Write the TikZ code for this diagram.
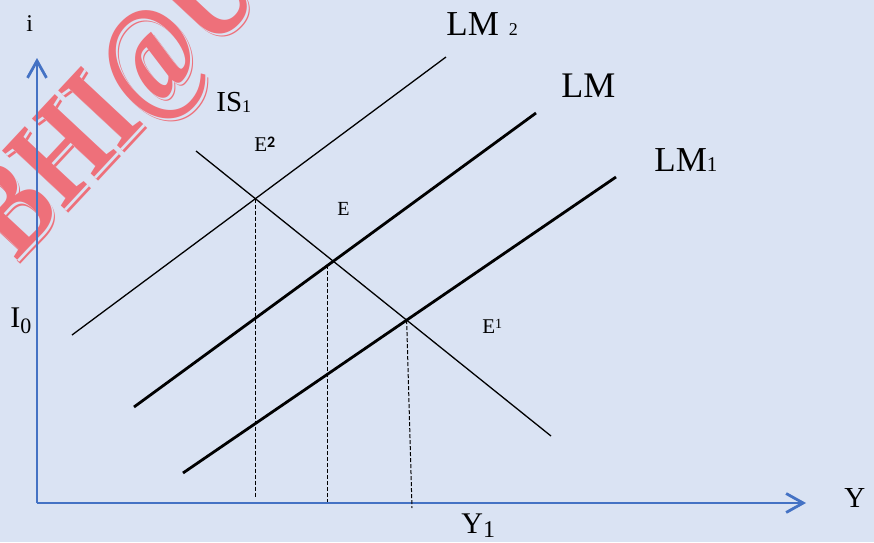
\documentclass[tikz,border=0pt]{standalone}
\usepackage{fontspec}
\setmainfont{Liberation Serif}
\newfontfamily\calib{Carlito}
\usetikzlibrary{arrows.meta,intersections}
\definecolor{bgc}{HTML}{DAE3F3}
\definecolor{axc}{HTML}{4472C4}
\definecolor{wmc}{HTML}{EE707A}
\newcommand{\fs}[1]{\fontsize{#1}{#1}\selectfont}
\newcommand{\wmtext}{\scalebox{0.8}[1]{BHI@U}}
\begin{document}
\begin{tikzpicture}[x=0.5pt,y=-0.5pt,
 axisline/.style={draw=axc,line width=1.4pt,-{Straight Barb[length=8.5pt,width=9.5pt,line width=1.4pt]}},
 thinline/.style={draw=black,line width=0.65pt},
 thickline/.style={draw=black,line width=1.4pt},
 dropline/.style={draw=black,line width=0.5pt,dash pattern=on 2pt off 1pt},
 lbl/.style={inner sep=0pt,anchor=base west,text=black},
 wm/.style={inner sep=0pt,anchor=base west,rotate=47,font=\bfseries\fs{65}}]

\useasboundingbox[fill=bgc] (0,0) rectangle (874,542);

% watermark
\node[wm,text=wmc] (wma) at (19.5,265.5) {\wmtext};
\node[wm,text=bgc] (wmb) at (17.8,263.8) {\wmtext};
\node[wm,text=wmc] (wmc) at (16,262) {\wmtext};

% axes
\coordinate (O) at (37,503);
\coordinate (ytip) at (37,58);
\coordinate (xtip) at (806,503);
\draw[axisline] (O) -- (ytip);
\draw[axisline] (O) -- (xtip);

% curves
\coordinate (isa) at (196,151);
\coordinate (isb) at (551,436);
\coordinate (lmta) at (72,335);
\coordinate (lmtb) at (446,57);
\coordinate (lma) at (134,407);
\coordinate (lmb) at (536,113);
\coordinate (lmoa) at (183,473);
\coordinate (lmob) at (616,177);
\draw[thinline,name path=is] (isa) -- (isb);
\draw[thinline,name path=lmtwo] (lmta) -- (lmtb);
\draw[thickline,name path=lm] (lma) -- (lmb);
\draw[thickline,name path=lmone] (lmoa) -- (lmob);

\path[name intersections={of=is and lmtwo,by=Etwo}];
\path[name intersections={of=is and lmone,by=Eone}];
\coordinate (Etop) at (327,265);

\coordinate (bone) at (0,498);
\coordinate (btwo) at (0,502);
\coordinate (bthree) at (412,508);
\draw[dropline] (Etwo) -- (Etwo |- bone);
\draw[dropline] (Etop) -- (Etop |- btwo);
\draw[dropline] (Eone) -- (bthree);

% labels
\node[lbl,font=\fs{12}] (li) at (26,31) {i};
\node[lbl,font=\fs{14.5}] (lis) at (216,111) {IS\raisebox{-0.5pt}{\fs{9}1}};
\node[lbl,font=\fs{10.5}] (letwo) at (254,151) {E\raisebox{1.7pt}{\calib\bfseries\fs{8}2}};
\node[lbl,font=\fs{10}] (le) at (337,215) {E};
\node[lbl,font=\fs{10.5}] (leone) at (482,333) {E\raisebox{2.5pt}{\fs{7}1}};
\node[lbl,font=\fs{17.5}] (llmtwo) at (446,35) {LM\hspace{5pt}{\fs{9}2}};
\node[lbl,font=\fs{18}] (llm) at (561,97) {LM};
\node[lbl,font=\fs{17.5}] (llmone) at (654,171) {LM{\fs{10.5}1}};
\node[lbl,font=\fs{15}] (lio) at (10,327) {I\raisebox{-3pt}{\fs{11}0}};
\node[lbl,font=\fs{14.5}] (ly) at (844,507) {Y};
\node[lbl,font=\fs{15}] (lyone) at (461,533) {Y\raisebox{-2pt}{\fs{12}1}};
\end{tikzpicture}
\end{document}
